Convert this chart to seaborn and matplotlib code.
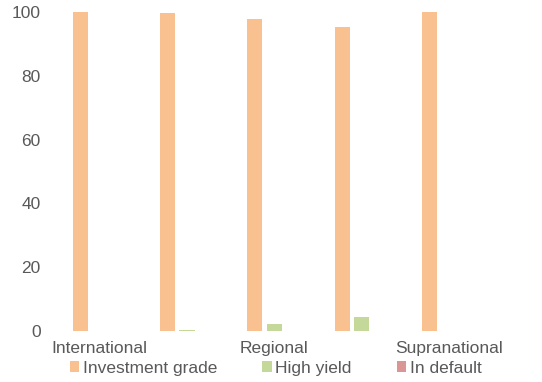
import pandas as pd
import matplotlib.pyplot as plt
import seaborn as sns

# --- Data ---
categories = ["International", "Multinational", "Regional", "Local", "Supranational"]
tick_labels = ["International", "", "Regional", "", "Supranational"]
series = ["Investment grade", "High yield", "In default"]
investment_grade = [100.0, 99.7, 97.8, 95.4, 100.0]
high_yield = [0.0, 0.3, 2.2, 4.5, 0.0]
in_default = [0.0, 0.0, 0.0, 0.0, 0.0]
colors = ["#F9C190", "#C4D89A", "#DA9694"]

rows = []
for name, vals in zip(series, [investment_grade, high_yield, in_default]):
    for cat, v in zip(categories, vals):
        rows.append({"category": cat, "rating": name, "share": v})
df = pd.DataFrame(rows)

# --- Plot ---
sns.set_style("white")
plt.rcParams["font.family"] = ["Liberation Sans", "DejaVu Sans"]
grey = "#595959"
fs = 12.5

fig = plt.figure(figsize=(5.42, 3.82), dpi=100)
ax = fig.add_axes([0.1033, 0.1335, 0.8057, 0.835])

sns.barplot(
    data=df, x="category", y="share", hue="rating",
    order=categories, hue_order=series, palette=colors,
    width=0.67, gap=0.23, saturation=1, errorbar=None,
    linewidth=0, ax=ax,
)

ax.set_ylim(0, 100)
ax.set_xlim(-0.5, 4.5)
ax.set_yticks(range(0, 101, 20))
ax.set_xticks(range(len(categories)))
ax.set_xticklabels(tick_labels)
ax.set_xlabel("")
ax.set_ylabel("")
ax.tick_params(axis="both", length=0, labelsize=fs, colors=grey)
ax.tick_params(axis="y", pad=11)
ax.tick_params(axis="x", pad=7.5)
sns.despine(ax=ax, left=True, bottom=True)

ax.legend(
    loc="center", bbox_to_anchor=(0.503, -0.116), ncol=3, frameon=False,
    fontsize=fs, labelcolor=grey, handlelength=0.55, handleheight=0.55,
    handletextpad=0.2, columnspacing=2.6, borderpad=0,
)

fig.savefig("out.png", dpi=100)
